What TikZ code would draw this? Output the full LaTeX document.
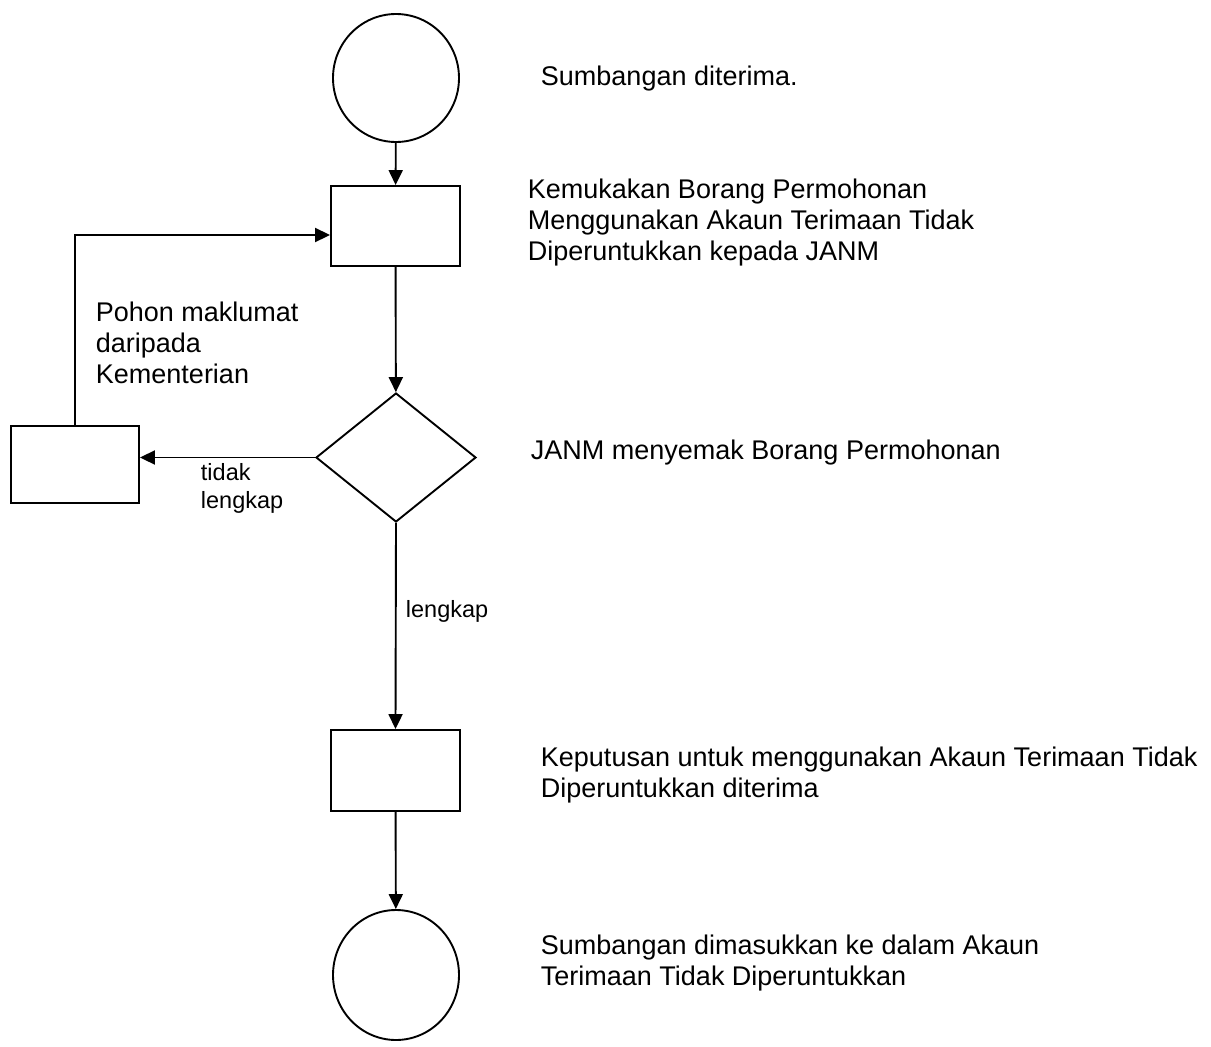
\documentclass[tikz,border=0pt]{standalone}
\usepackage{fontspec}
\setmainfont{Liberation Sans}
\usetikzlibrary{shapes.geometric,arrows.meta}

\begin{document}
\begin{tikzpicture}[x=1pt,y=-1pt,
  line width=1.9pt,
  flow/.style={-{Triangle[width=14pt,length=15pt]}},
  terminal/.style={draw,ellipse,inner sep=0pt},
  procbox/.style={draw,rectangle,inner sep=0pt,minimum width=129pt,minimum height=80pt},
  decision/.style={draw,diamond,inner sep=0pt,minimum width=160pt,minimum height=129pt},
  note/.style={anchor=west,align=left,inner sep=0pt,font=\fontsize{27}{31}\selectfont},
  small/.style={anchor=west,align=left,inner sep=0pt,font=\fontsize{23.5}{28}\selectfont}]

  \useasboundingbox (0,0) rectangle (1211,1047);

  % process shapes
  \node[terminal,minimum width=126pt,minimum height=128pt] (start) at (396,78) {};
  \node[procbox] (submit) at (395.5,226) {};
  \node[decision] (check) at (396,457.5) {};
  \node[procbox,minimum width=128pt,minimum height=77pt] (request) at (75,464.5) {};
  \node[procbox,minimum height=81pt] (approve) at (395.5,770.5) {};
  \node[terminal,minimum width=126pt,minimum height=130pt] (finish) at (396,975) {};

  % connectors
  \draw[flow] (start) -- (submit);
  \draw[flow] (submit) -- (check);
  \draw[flow] (check.west) -- (check.west -| request.east);
  \draw[flow] (request.north) |- ([yshift=-9pt]submit.west);
  \draw[flow] (check.south) -- (approve.north);
  \draw[flow] (approve) -- (finish);

  % descriptions
  \node[note] (d1) at (540,79) {Sumbangan diterima.};
  \node[note] (d2) at (527,223) {Kemukakan Borang Permohonan\\Menggunakan Akaun Terimaan Tidak\\Diperuntukkan kepada JANM};
  \node[note] (d3) at (530,453) {JANM menyemak Borang Permohonan};
  \node[note] (d4) at (540,775) {Keputusan untuk menggunakan Akaun Terimaan Tidak\\Diperuntukkan diterima};
  \node[note] (d5) at (540,963) {Sumbangan dimasukkan ke dalam Akaun\\Terimaan Tidak Diperuntukkan};
  \node[note] (d6) at (95,343) {Pohon maklumat\\daripada\\Kementerian};

  % branch labels
  \node[small] (no) at (200,488) {tidak\\lengkap};
  \node[small] (yes) at (405,611) {lengkap};
\end{tikzpicture}
\end{document}
